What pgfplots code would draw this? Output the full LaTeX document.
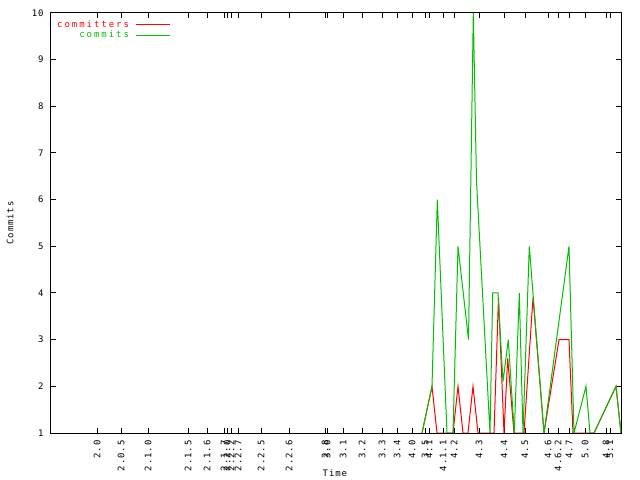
\documentclass[border=0pt]{standalone}
\usepackage{fontspec}
\newfontfamily\gp{DejaVu Sans Mono}[LetterSpace=10]
\newfontfamily\gpw{DejaVu Sans Mono}[LetterSpace=22]
\usepackage{pgfplots}
\pgfplotsset{compat=1.18}
\definecolor{gpred}{RGB}{255,0,0}
\definecolor{gpgreen}{RGB}{0,192,0}

\begin{document}
\begin{tikzpicture}
\useasboundingbox (0bp,0bp) rectangle (640bp,480bp);
\begin{axis}[
  at={(51bp,47bp)}, anchor=south west,
  scale only axis, width=570bp, height=420bp,
  xmin=51, xmax=621, ymin=1, ymax=10,
  ytick={1,2,...,10},
  xtick={97,121,148,188,207,224,227,231,238,261,289,325,327,343,362,382,397,412,425,429,443,454,479,504,525,548,558,569,585,606,610},
  xticklabels={2.0,2.0.5,2.1.0,2.1.5,2.1.6,2.1.7,2.2.0,2.2.2,2.2.7,2.2.5,2.2.6,2.8,3.0,3.1,3.2,3.3,3.4,4.0,3.5,4.1,4.1.1,4.2,4.3,4.4,4.5,4.6,4.6.2,4.7,5.0,4.8,5.1},
  font=\gp\fontsize{9}{10}\selectfont,
  /pgf/number format/assume math mode=true,
  axis line style={line width=1bp},
  tick style={black, line width=1bp},
  major tick length=5bp,
  xticklabel style={rotate=90, anchor=east, xshift=-4bp},
  yticklabel style={anchor=east, xshift=-4bp},
  xlabel={Time}, ylabel={Commits},
  xlabel style={at={(axis description cs:0.498,0)}, anchor=center, yshift=-40bp},
  ylabel style={at={(axis description cs:0,0.5)}, anchor=center, yshift=41bp},
  legend style={draw=none, fill=none, at={(0,1)}, anchor=north west,
    xshift=5bp, yshift=-6bp, inner sep=0pt, row sep=0.5bp,
    font=\gpw\fontsize{9}{10}\selectfont,
    nodes={inner sep=1bp}},
  legend plot pos=right,
  legend cell align=right,
  legend image code/.code={\path (0bp,0bp); \draw[#1] (6bp,0bp) -- (40bp,0bp);},
]
\addplot[gpred, line width=1bp] coordinates {
(422,1)(432,2)(437,1)(447,1)(453,1)(458,2)(463,1)(468,1)(473,2)(478,1)(494,1)(498.5,3.9)(504,1)(507.7,2.6)(514,1)(524,1)(533,3.9)(544,1)(559,3)(569,3)(573,1)(590,1)(594,1)(616,2)(621,1)
};
\addlegendentry{\textcolor{gpred}{committers}}
\addplot[gpgreen, line width=1bp] coordinates {
(422,1)(432,2)(437.3,6)(447,1)(453,1)(458,5)(468.5,3)(473.3,10)(476.5,6.4)(490,1)(492.7,4)(498,4)(503,2.1)(508.3,3)(514.3,1)(519.3,4)(523,1)(529.3,5)(544,1)(569,5)(574,1)(586,2)(590,1)(594,1)(616,2)(621,1)
};
\addlegendentry{\textcolor{gpgreen}{commits}}
\end{axis}
\end{tikzpicture}
\end{document}
